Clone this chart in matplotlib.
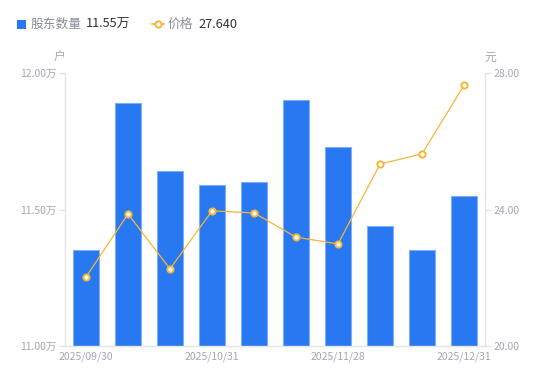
import matplotlib
matplotlib.use('Agg')
import matplotlib.pyplot as plt
from matplotlib.lines import Line2D
from matplotlib.patches import Rectangle

plt.rcParams['font.family'] = ['Noto Sans CJK SC', 'DejaVu Sans']

dates = ['2025/09/30', '2025/10/10', '2025/10/20', '2025/10/31', '2025/11/10',
         '2025/11/20', '2025/11/28', '2025/12/10', '2025/12/20', '2025/12/31']
holders = [11.35, 11.89, 11.64, 11.59, 11.60, 11.90, 11.73, 11.44, 11.35, 11.55]  # 万户
price = [22.02, 23.87, 22.26, 23.96, 23.90, 23.19, 22.99, 25.33, 25.63, 27.64]

BAR = '#2878F2'
LINE = '#F7B538'
GRID = '#E3E5EA'
TXT = '#A3A6B4'

W, H = 550, 381
fig = plt.figure(figsize=(5.5, 3.81), dpi=100)
fig.patch.set_facecolor('white')
ax = fig.add_axes([65 / W, 1 - 346 / H, 420 / W, 273 / H])
ax2 = ax.twinx()

x = list(range(len(dates)))
ax.bar(x, holders, width=0.6, color=BAR, edgecolor='#7FAEF7', lw=0.8, zorder=2)
ax.set_ylim(11.0, 12.0)
ax.set_xlim(-0.5, len(dates) - 0.5)
ax.set_yticks([11.0, 11.5, 12.0])
ax.set_yticklabels(['11.00万', '11.50万', '12.00万'])
ax.set_xticks([0, 3, 6, 9])
ax.set_xticklabels([dates[i] for i in [0, 3, 6, 9]])

ax2.plot(x, price, color=LINE, lw=0.9, marker='o', ms=4.5, mfc='white',
         mec=LINE, mew=1.4, zorder=3)
ax2.set_ylim(20, 28)
ax2.set_yticks([20, 24, 28])
ax2.set_yticklabels(['20.00', '24.00', '28.00'])

for a in (ax, ax2):
    for s in a.spines.values():
        s.set_visible(False)
    a.tick_params(colors=GRID, labelcolor=TXT, labelsize=7.5, length=4, width=1)
ax.spines['left'].set_visible(True)
ax.spines['bottom'].set_visible(True)
ax2.spines['right'].set_visible(True)
for s in (ax.spines['left'], ax.spines['bottom'], ax2.spines['right']):
    s.set_color(GRID)
    s.set_linewidth(1)
ax.tick_params(axis='x', length=0, pad=4)
ax.tick_params(axis='y', pad=2)
ax2.tick_params(axis='y', pad=2)
ax2.set_zorder(ax.get_zorder() + 1)
ax2.patch.set_visible(False)

# unit labels
fig.text(59 / W, 1 - 57 / H, '户', color=TXT, fontsize=8.5, ha='center', va='center')
fig.text(490 / W, 1 - 57 / H, '元', color=TXT, fontsize=8.5, ha='center', va='center')

# legend
ly = 1 - 24 / H
fig.patches.append(Rectangle((17 / W, 1 - 29 / H), 9 / W, 9 / H, transform=fig.transFigure,
                             facecolor=BAR, edgecolor='none'))
fig.text(31 / W, ly, '股东数量', color='#8A8D9A', fontsize=9.2, va='center')
fig.text(86 / W, ly, f'{holders[-1]:.2f}万', color='#333333', fontsize=9.2, va='center')
fig.lines.append(Line2D([152 / W, 164 / W], [ly, ly], transform=fig.transFigure,
                        color=LINE, lw=1.2))
fig.lines.append(Line2D([158 / W], [ly], transform=fig.transFigure,
                        color=LINE, lw=0, marker='o', ms=4.5, mfc='white', mec=LINE, mew=1.4))
fig.text(168 / W, ly, '价格', color='#8A8D9A', fontsize=9.2, va='center')
fig.text(198 / W, ly, f'{price[-1]:.3f}', color='#333333', fontsize=9.2, va='center')

fig.savefig('out.png', dpi=100, facecolor='white')
